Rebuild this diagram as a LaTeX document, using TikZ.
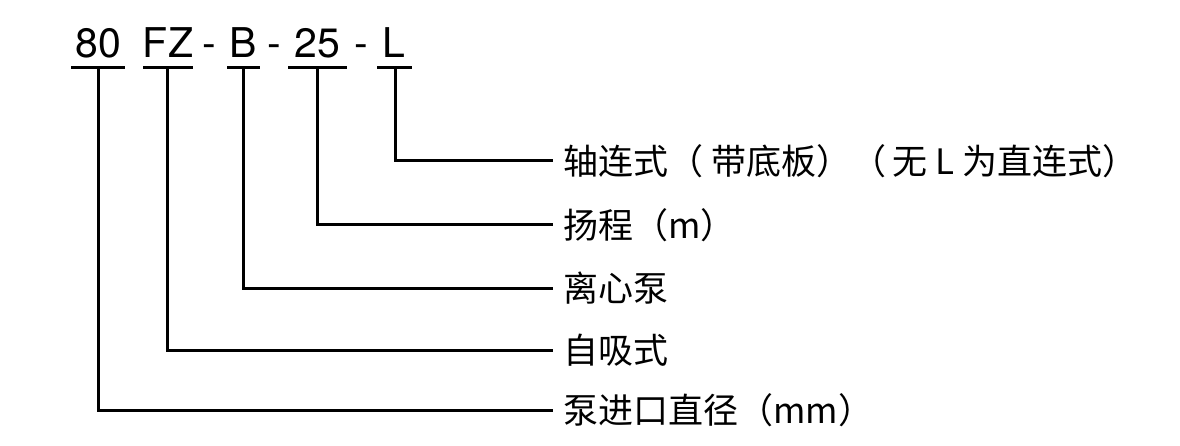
\documentclass[tikz,border=0pt]{standalone}
\usepackage{fontspec}
\setmainfont{TeX Gyre Heros}
\newfontfamily\cjk{Noto Sans CJK SC}
\begin{document}
\begin{tikzpicture}[x=1pt,y=-1pt,
  codetxt/.style={font=\fontsize{41}{45}\selectfont, inner sep=0pt, anchor=base},
  labtxt/.style={font=\cjk\fontsize{35}{40}\selectfont, inner ysep=0pt, inner xsep=10pt, anchor=west},
  rule/.style={line width=3pt},
  conn/.style={line width=3pt}]
\useasboundingbox[fill=white] (0,0) rectangle (1180,446);
% code parts
\node[codetxt] (c80) at (98,58) {80};
\node[codetxt] (cFZ) at (168,58) {FZ};
\node[codetxt] (cB) at (243,58) {B};
\node[codetxt] (c25) at (317,58) {25};
\node[codetxt] (cL) at (394,58) {L};
\node[codetxt] (d1) at (209,58) {-};
\node[codetxt] (d2) at (274,58) {-};
\node[codetxt] (d3) at (361,58) {-};
% underlines
\draw[rule] (71,68) -- (125,68);
\draw[rule] (143,68) -- (193,68);
\draw[rule] (227,68) -- (260,68);
\draw[rule] (288,68) -- (347,68);
\draw[rule] (377,68) -- (412,68);
\coordinate (u80) at (98,68);
\coordinate (uFZ) at (167,68);
\coordinate (uB) at (243,68);
\coordinate (u25) at (317,68);
\coordinate (uL) at (395,68);
% labels
\node[labtxt] (lL) at (553,161) {轴连式（\hspace{8pt}带底板）（\hspace{6pt}无\hspace{8pt}L\hspace{8pt}为直连式）};
\node[labtxt] (l25) at (553,225) {扬程（m）};
\node[labtxt] (lB) at (553,288) {离心泵};
\node[labtxt] (lFZ) at (553,350) {自吸式};
\node[labtxt] (l80) at (553,410) {泵进口直径（mm）};
% connectors
\draw[conn] (uL) |- (lL.west);
\draw[conn] (u25) |- (l25.west);
\draw[conn] (uB) |- (lB.west);
\draw[conn] (uFZ) |- (lFZ.west);
\draw[conn] (u80) |- (l80.west);
\end{tikzpicture}
\end{document}
